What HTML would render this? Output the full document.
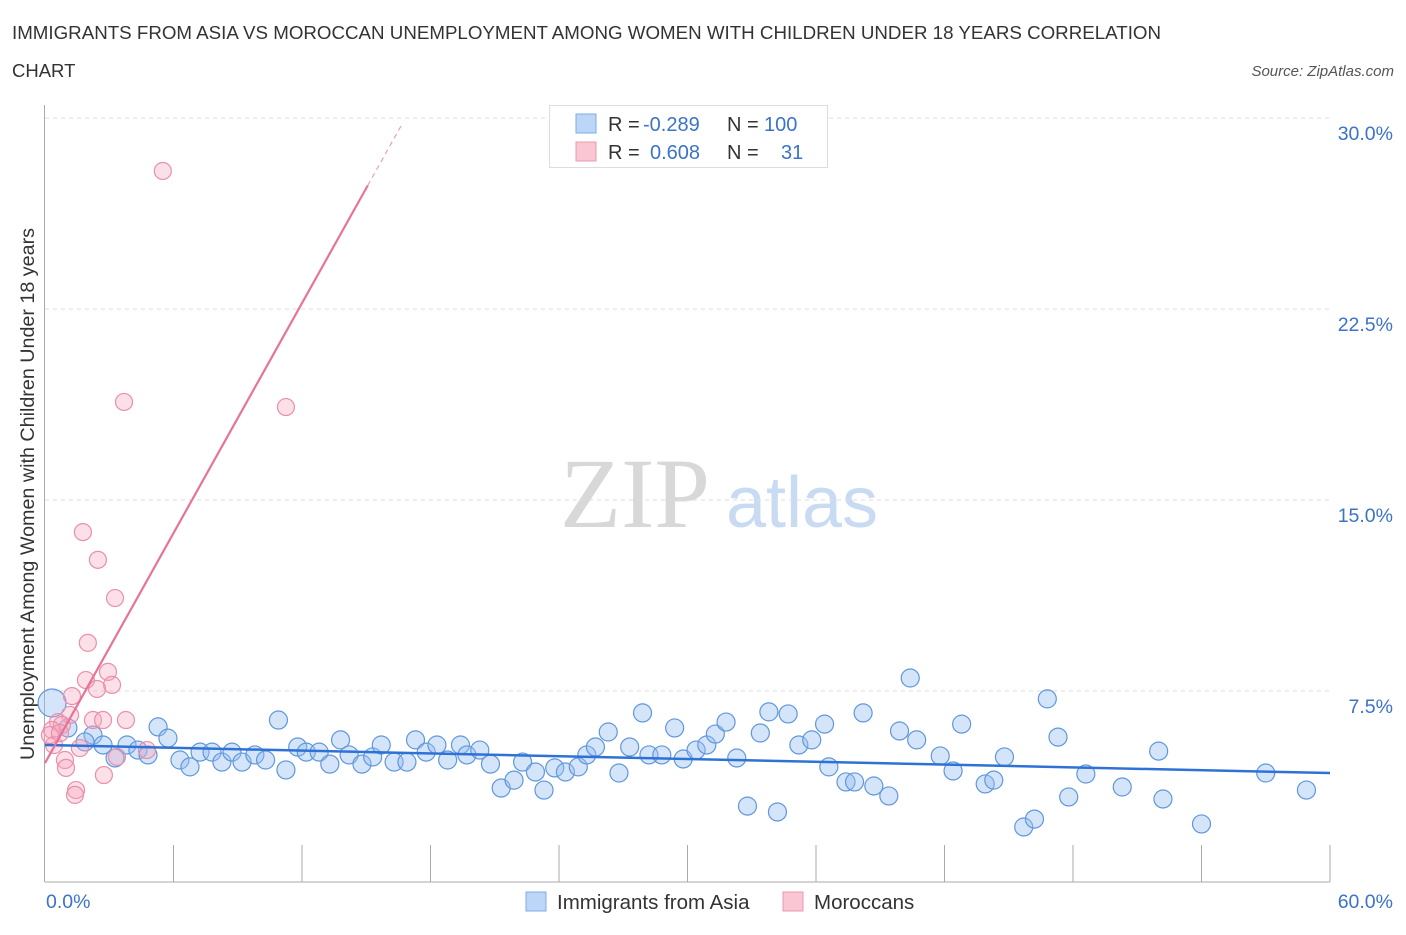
<!DOCTYPE html>
<html><head><meta charset="utf-8"><style>
body{margin:0;background:#fff;font-family:"Liberation Sans",sans-serif;}
</style></head><body>
<svg id="c" width="1406" height="930" xmlns="http://www.w3.org/2000/svg" font-family="Liberation Sans, sans-serif">
<text x="12" y="39" font-size="18.5" fill="#333" textLength="1149" lengthAdjust="spacingAndGlyphs">IMMIGRANTS FROM ASIA VS MOROCCAN UNEMPLOYMENT AMONG WOMEN WITH CHILDREN UNDER 18 YEARS CORRELATION</text>
<text x="12" y="77" font-size="18.5" fill="#333">CHART</text>
<text x="1394" y="76" font-size="15" fill="#555" font-style="italic" text-anchor="end">Source: ZipAtlas.com</text>
<text x="34" y="494" font-size="19" fill="#333" text-anchor="middle" textLength="532" lengthAdjust="spacingAndGlyphs" transform="rotate(-90 34 494)">Unemployment Among Women with Children Under 18 years</text>
<g><text x="635" y="527" font-size="100" fill="#d8d8d8" font-family="Liberation Serif, serif" text-anchor="middle">ZIP</text><text x="802" y="527" font-size="72" fill="#c9dbf2" text-anchor="middle">atlas</text></g>
<g id="grid"></g><g id="axes"></g><g id="pts"></g><g id="trend"></g>
<g>
<rect x="549.5" y="105.5" width="278" height="62" fill="#fff" stroke="#ddd"/>
<rect x="576" y="114" width="20" height="19" fill="#bcd6f7" stroke="#7fabe6"/>
<rect x="576" y="142" width="20" height="19" fill="#fac6d4" stroke="#eb98b0"/>
<text x="608" y="131" font-size="20" fill="#333">R = </text><text x="643" y="131" font-size="20" fill="#3b73c8">-0.289</text>
<text x="727" y="131" font-size="20" fill="#333">N = </text><text x="764" y="131" font-size="20" fill="#3b73c8">100</text>
<text x="608" y="159" font-size="20" fill="#333">R = </text><text x="650" y="159" font-size="20" fill="#3b73c8">0.608</text>
<text x="727" y="159" font-size="20" fill="#333">N = </text><text x="781" y="159" font-size="20" fill="#3b73c8">31</text>
</g>
<g>
<rect x="526" y="892" width="20" height="19" fill="#bcd6f7" stroke="#7fabe6"/>
<text x="557" y="909" font-size="20.5" fill="#333">Immigrants from Asia</text>
<rect x="783" y="892" width="20" height="19" fill="#fac6d4" stroke="#eb98b0"/>
<text x="814" y="909" font-size="20.5" fill="#333">Moroccans</text>
</g>
</svg>
<script>
const yTicks=[7.5,15,22.5,30];
const yTickLabels=["7.5%","15.0%","22.5%","30.0%"];
const xTickCount=10;
const xLabels=["0.0%","60.0%"];
const asiaX=[0.33,1.07,2.24,1.87,2.71,3.27,3.83,4.34,4.81,5.28,5.74,6.30,6.77,7.24,7.8,8.26,8.73,9.2,9.8,10.3,10.9,11.25,11.8,12.2,12.8,13.3,13.8,14.2,14.8,15.3,15.7,16.3,16.9,17.3,17.8,18.3,18.8,19.4,19.7,20.3,20.8,21.3,21.9,22.3,22.9,23.3,23.8,24.3,24.9,25.3,25.7,26.3,26.8,27.3,27.9,28.2,28.8,29.4,29.8,30.4,30.9,31.3,31.8,32.3,32.8,33.4,33.8,34.2,34.7,35.2,35.8,36.4,36.6,37.4,37.8,38.2,38.7,39.4,39.9,40.4,40.7,41.8,42.4,42.8,43.9,44.3,44.8,45.7,46.2,46.8,47.3,47.8,48.6,50.3,52.0,52.2,54.0,57.0,58.9];
const asiaY=[7.03,6.05,5.77,5.5,5.38,4.87,5.38,5.18,4.99,6.09,5.65,4.79,4.52,5.1,5.1,4.71,5.1,4.71,4.99,4.79,6.36,4.4,5.3,5.1,5.1,4.63,5.58,4.99,4.63,4.91,5.38,4.71,4.71,5.58,5.1,5.38,4.79,5.38,4.99,5.18,4.63,3.69,4.0,4.71,4.32,3.61,4.48,4.32,4.52,4.99,5.3,5.89,4.28,5.3,6.64,4.99,4.99,6.05,4.83,5.18,5.38,5.81,6.28,4.87,2.98,5.85,6.68,2.75,6.6,5.38,5.58,6.2,4.52,3.93,3.93,6.64,3.77,3.38,5.93,8.01,5.58,4.95,4.36,6.2,3.85,4.0,4.91,2.16,2.47,7.19,5.69,3.34,4.24,3.73,5.14,3.26,2.28,4.28,3.61];
const morX=[5.5,3.69,11.25,1.77,2.47,3.27,2.0,1.91,2.94,3.13,2.43,1.26,1.17,0.61,0.79,0.33,0.42,2.24,2.71,3.78,1.63,0.93,0.98,3.36,4.76,2.75,1.45,1.4,0.23,0.7];
const morY=[27.92,18.85,18.65,13.74,12.65,11.15,9.39,7.93,8.25,7.74,7.58,7.3,6.56,6.28,6.17,5.97,5.38,6.36,6.36,6.36,5.26,4.79,4.48,4.91,5.18,4.2,3.61,3.42,5.77,5.85];
const asiaTrend=[5.38,4.28];
const morTrend=[4.67,1.505];
const X=v=>45+v/60*1285, Y=v=>882-v/7.5*191;
const NS="http://www.w3.org/2000/svg";
function mk(p,t,a){const e=document.createElementNS(NS,t);for(const k in a)e.setAttribute(k,a[k]);p.appendChild(e);return e;}
const grid=document.getElementById('grid'),axes=document.getElementById('axes'),pts=document.getElementById('pts'),tr=document.getElementById('trend');
yTicks.forEach((v,i)=>{
 const l=mk(grid,'line',{x1:45,x2:1330,y1:Y(v),y2:Y(v),stroke:'#ddd','stroke-dasharray':'4,4'});
 
 
 const t=mk(axes,'text',{x:1393,y:Y(v)+22,'font-size':19.5,fill:'#3b73c8','text-anchor':'end'});
 t.textContent=yTickLabels[i];
 
 
});
const ax=mk(axes,'line',{x1:45,x2:1330,y1:882,y2:882,stroke:'#aaa'});


const ay=mk(axes,'line',{x1:44.5,x2:44.5,y1:105,y2:882,stroke:'#aaa'});


for(let i=1;i<=xTickCount;i++){const x=X(i*60/xTickCount);
 const t=mk(axes,'line',{x1:x,x2:x,y1:845,y2:882,stroke:'#aaa'});
 
 }
[[0,'start',46],[60,'end',1393]].forEach((d,i)=>{const t=mk(axes,'text',{x:d[2],y:908,'font-size':19.5,fill:'#3b73c8','text-anchor':d[1]});t.textContent=xLabels[i];
 
 });
asiaX.forEach((x,i)=>{const c=mk(pts,'circle',{cx:X(x),cy:Y(asiaY[i]),r:i==0?14:9,fill:'rgba(150,190,240,0.4)',stroke:'#5f97dc','stroke-width':1.2});
 
 });
morX.forEach((x,i)=>{const c=mk(pts,'circle',{cx:X(x),cy:Y(morY[i]),r:8.5,fill:'rgba(245,165,188,0.35)',stroke:'#ea8fab','stroke-width':1.2});
 
 });
const bl=mk(tr,'line',{x1:X(0),x2:X(60),y1:Y(asiaTrend[0]),y2:Y(asiaTrend[1]),stroke:'#2f72d6','stroke-width':2.5});


const xe=15.07,xd=16.7;
const pl=mk(tr,'line',{x1:X(0),x2:X(xe),y1:Y(morTrend[0]),y2:Y(morTrend[0]+morTrend[1]*xe),stroke:'#e8739a','stroke-width':2.2});


const pd=mk(tr,'line',{x1:X(xe),x2:X(xd),y1:Y(morTrend[0]+morTrend[1]*xe),y2:Y(morTrend[0]+morTrend[1]*xd),stroke:'#e8a0b8','stroke-width':1.2,'stroke-dasharray':'5,4'});


</script>
</body></html>
